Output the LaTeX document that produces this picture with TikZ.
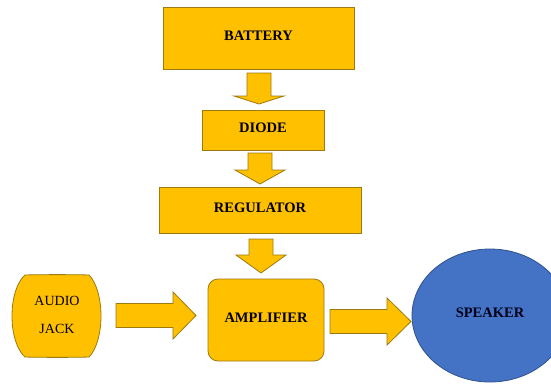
\documentclass[tikz,border=0pt]{standalone}
\usepackage{fontspec}
\setmainfont{Liberation Serif}
\usetikzlibrary{shapes.geometric}
\definecolor{gold}{HTML}{FFC000}
\definecolor{goldline}{HTML}{9C7A10}
\definecolor{spk}{HTML}{4472C4}
\definecolor{spkline}{HTML}{2F528F}
\tikzset{
  blk/.style={draw=goldline, line width=0.8pt, fill=gold, rectangle, inner sep=0pt,
    font=\fontsize{14.5}{17}\selectfont\bfseries},
  barrow/.style={draw=goldline, line width=0.8pt, fill=gold, line join=miter},
}
\newcommand\up[1]{\raisebox{4pt}{#1}}
\newcommand\darrowshape[4]{% cx, ytop, yhead, ytip
  \draw[barrow] ({#1-12},#2) -- ({#1+12},#2) -- ({#1+12},#3) -- ({#1+25},#3) -- (#1,#4)
    -- ({#1-25},#3) -- ({#1-12},#3) -- cycle;}
\newcommand\rarrowshape[4]{% cy, xleft, xhead, xtip
  \draw[barrow] (#2,{#1-12}) -- (#3,{#1-12}) -- (#3,{#1-23.5}) -- (#4,#1) -- (#3,{#1+23.5})
    -- (#3,{#1+12}) -- (#2,{#1+12}) -- cycle;}
\begin{document}
\begin{tikzpicture}[x=1pt,y=-1pt]
\useasboundingbox (0,0) rectangle (551,383);
\clip (0,0) rectangle (551,383);
\node[blk, minimum width=191pt, minimum height=62pt] (battery) at (258.5,38) {\up{BATTERY}};
\node[blk, minimum width=122pt, minimum height=40pt] (diode) at (263,130) {\up{DIODE}};
\node[blk, minimum width=202pt, minimum height=46pt] (regulator) at (260,210) {\up{REGULATOR}};
\node[blk, rounded corners=10pt, minimum width=116pt, minimum height=82pt] (amp) at (266,320) {\up{AMPLIFIER}};
\node[draw=spkline, line width=0.8pt, fill=spk, ellipse, minimum width=156pt, minimum height=133pt,
  inner sep=0pt, font=\fontsize{14.5}{17}\selectfont\bfseries, text=black!90!blue] (speaker) at (490,315.5) {\raisebox{5pt}{SPEAKER}};
% audio jack barrel shape
\draw[draw=goldline, line width=0.8pt, fill=gold]
  (25,275) .. controls (40,274.5) and (75,274.5) .. (89,275) .. controls (97,283) and (101,300) .. (101,316)
  .. controls (101,332) and (97,349) .. (89,357) .. controls (75,357.5) and (40,357.5) .. (25,357)
  .. controls (16,349) and (12,332) .. (12,316)
  .. controls (12,300) and (16,283) .. (25,275) -- cycle;
\node[align=center, font=\fontsize{14}{28}\selectfont, inner sep=0pt] (jack) at (57,315) {AUDIO\\JACK};
% block arrows
\darrowshape{259}{73}{96}{104}
\darrowshape{260}{153}{170}{184}
\darrowshape{261}{239}{255}{273}
\rarrowshape{315.5}{116}{173}{196}
\rarrowshape{321.5}{330}{387}{411}
\end{tikzpicture}
\end{document}
